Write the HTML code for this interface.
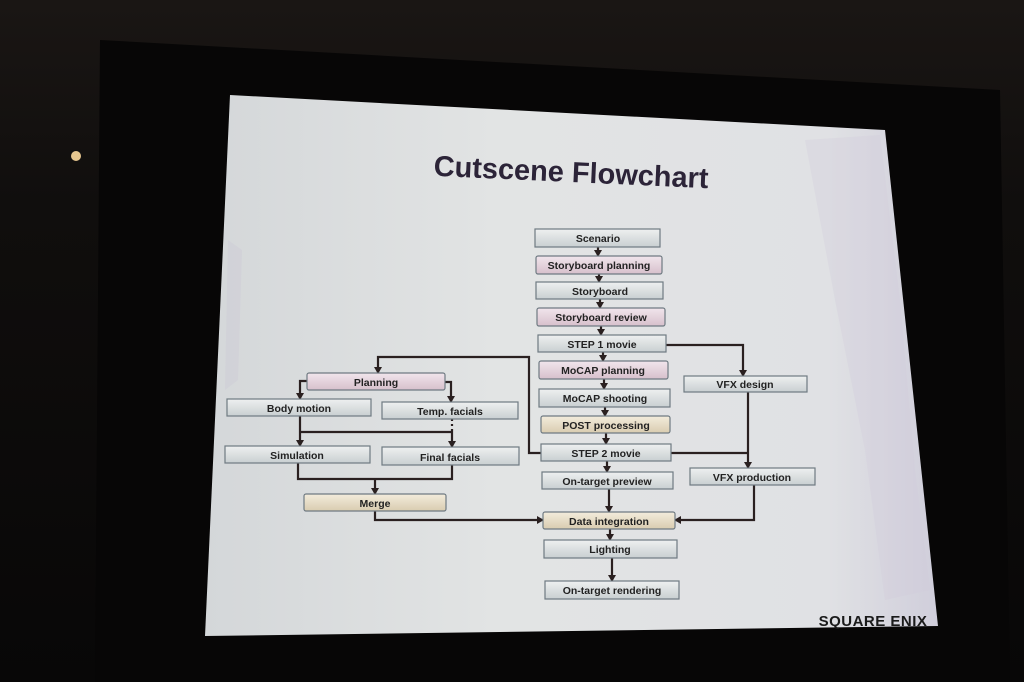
<!DOCTYPE html>
<html><head><style>
html,body{margin:0;padding:0;width:1024px;height:682px;overflow:hidden;background:#0c0a0a;}
</style></head><body>
<svg width="1024" height="682" viewBox="0 0 1024 682" xmlns="http://www.w3.org/2000/svg" font-family="Liberation Sans, sans-serif">
<defs>
<linearGradient id="bg" x1="0" y1="0" x2="0" y2="1"><stop offset="0" stop-color="#1a1614"/><stop offset="0.3" stop-color="#100e0d"/><stop offset="1" stop-color="#080707"/></linearGradient>
<linearGradient id="scr" x1="0" y1="0" x2="1" y2="0"><stop offset="0" stop-color="#d4d7d9"/><stop offset="0.4" stop-color="#e2e4e4"/><stop offset="0.85" stop-color="#e0e1e4"/><stop offset="1" stop-color="#d0cedb"/></linearGradient>
<linearGradient id="box" x1="0" y1="0" x2="0" y2="1"><stop offset="0" stop-color="#eef0f0"/><stop offset="1" stop-color="#c9cfd1"/></linearGradient>
<linearGradient id="pink" x1="0" y1="0" x2="0" y2="1"><stop offset="0" stop-color="#f1e5ec"/><stop offset="1" stop-color="#d7c0cc"/></linearGradient>
<linearGradient id="tan" x1="0" y1="0" x2="0" y2="1"><stop offset="0" stop-color="#f3ecdc"/><stop offset="1" stop-color="#d9ccb0"/></linearGradient>
<marker id="a" markerWidth="8" markerHeight="8" refX="6" refY="4" orient="auto" markerUnits="userSpaceOnUse"><path d="M0,0 L7,4 L0,8 z" fill="#2a2020"/></marker>
</defs>
<rect width="1024" height="682" fill="url(#bg)"/>
<polygon points="100,40 1000,90 1010,682 95,682" fill="#070606"/>
<polygon points="230,95 885,130 938,626 205,636" fill="url(#scr)"/>
<path d="M805,140 L880,135 L900,300 L915,470 L930,590 L885,600 L865,450 L835,300 Z" fill="#cfcadb" opacity="0.3"/>
<path d="M228,240 L242,250 L238,380 L225,390 Z" fill="#c9c5d5" opacity="0.3"/>
<circle cx="76" cy="156" r="5" fill="#e8c890"/>
<text x="571" y="182" text-anchor="middle" font-size="29" font-weight="bold" fill="#2c2438" transform="rotate(2.6 571 175)" textLength="275" lengthAdjust="spacingAndGlyphs">Cutscene Flowchart</text>
<g fill="none" stroke="#2a2020" stroke-width="2.2">
<path d="M598,247 V256" marker-end="url(#a)"/>
<path d="M599,274 V282" marker-end="url(#a)"/>
<path d="M600,299 V308" marker-end="url(#a)"/>
<path d="M601,326 V335" marker-end="url(#a)"/>
<path d="M603,352 V361" marker-end="url(#a)"/>
<path d="M604,379 V389" marker-end="url(#a)"/>
<path d="M605,407 V416" marker-end="url(#a)"/>
<path d="M606,433 V444" marker-end="url(#a)"/>
<path d="M607,461 V472" marker-end="url(#a)"/>
<path d="M609,489 V512" marker-end="url(#a)"/>
<path d="M610,529 V540" marker-end="url(#a)"/>
<path d="M612,558 V581" marker-end="url(#a)"/>
<path d="M666,345 H743 V376" marker-end="url(#a)"/>
<path d="M748,392 V468" marker-end="url(#a)"/>
<path d="M671,453 H748"/>
<path d="M754,485 V520 H675" marker-end="url(#a)"/>
<path d="M541,453 H529 V357 H378 V373" marker-end="url(#a)"/>
<path d="M307,381 H300 V399" marker-end="url(#a)"/>
<path d="M445,382 H451 V402" marker-end="url(#a)"/>
<path d="M300,416 V446" marker-end="url(#a)"/>
<path d="M300,432 H452 V447" marker-end="url(#a)"/>
<path d="M452,419 V432" stroke-dasharray="2 3"/>
<path d="M298,463 V479 H452 V465"/>
<path d="M375,479 V494" marker-end="url(#a)"/>
<path d="M375,511 V520 H543" marker-end="url(#a)"/>
</g>
<g stroke="#6f7a82" stroke-width="1.2">
<rect x="535" y="229" width="125" height="18" fill="url(#box)"/>
<rect x="536" y="256" width="126" height="18" fill="url(#pink)" rx="2"/>
<rect x="536" y="282" width="127" height="17" fill="url(#box)"/>
<rect x="537" y="308" width="128" height="18" fill="url(#pink)" rx="2"/>
<rect x="538" y="335" width="128" height="17" fill="url(#box)"/>
<rect x="539" y="361" width="129" height="18" fill="url(#pink)" rx="2"/>
<rect x="539" y="389" width="131" height="18" fill="url(#box)"/>
<rect x="541" y="416" width="129" height="17" fill="url(#tan)" rx="2"/>
<rect x="541" y="444" width="130" height="17" fill="url(#box)"/>
<rect x="542" y="472" width="131" height="17" fill="url(#box)"/>
<rect x="543" y="512" width="132" height="17" fill="url(#tan)" rx="2"/>
<rect x="544" y="540" width="133" height="18" fill="url(#box)"/>
<rect x="545" y="581" width="134" height="18" fill="url(#box)"/>
<rect x="684" y="376" width="123" height="16" fill="url(#box)"/>
<rect x="690" y="468" width="125" height="17" fill="url(#box)"/>
<rect x="307" y="373" width="138" height="17" fill="url(#pink)" rx="2"/>
<rect x="227" y="399" width="144" height="17" fill="url(#box)"/>
<rect x="382" y="402" width="136" height="17" fill="url(#box)"/>
<rect x="225" y="446" width="145" height="17" fill="url(#box)"/>
<rect x="382" y="447" width="137" height="18" fill="url(#box)"/>
<rect x="304" y="494" width="142" height="17" fill="url(#tan)" rx="2"/>
</g>
<g font-size="10.5" font-weight="bold" fill="#222" text-anchor="middle">
<text x="598" y="242">Scenario</text>
<text x="599" y="269">Storyboard planning</text>
<text x="600" y="295">Storyboard</text>
<text x="601" y="321">Storyboard review</text>
<text x="602" y="348">STEP 1 movie</text>
<text x="603" y="374">MoCAP planning</text>
<text x="605" y="402">MoCAP shooting</text>
<text x="606" y="429">POST processing</text>
<text x="606" y="457">STEP 2 movie</text>
<text x="607" y="485">On-target preview</text>
<text x="609" y="525">Data integration</text>
<text x="610" y="553">Lighting</text>
<text x="612" y="594">On-target rendering</text>
<text x="745" y="388">VFX design</text>
<text x="752" y="481">VFX production</text>
<text x="376" y="386">Planning</text>
<text x="299" y="412">Body motion</text>
<text x="450" y="415">Temp. facials</text>
<text x="297" y="459">Simulation</text>
<text x="450" y="461">Final facials</text>
<text x="375" y="507">Merge</text>
</g>
<text x="873" y="626" text-anchor="middle" font-size="15" font-weight="bold" fill="#1a1a1a" letter-spacing="0.5">SQUARE ENIX</text>
</svg>
</body></html>
